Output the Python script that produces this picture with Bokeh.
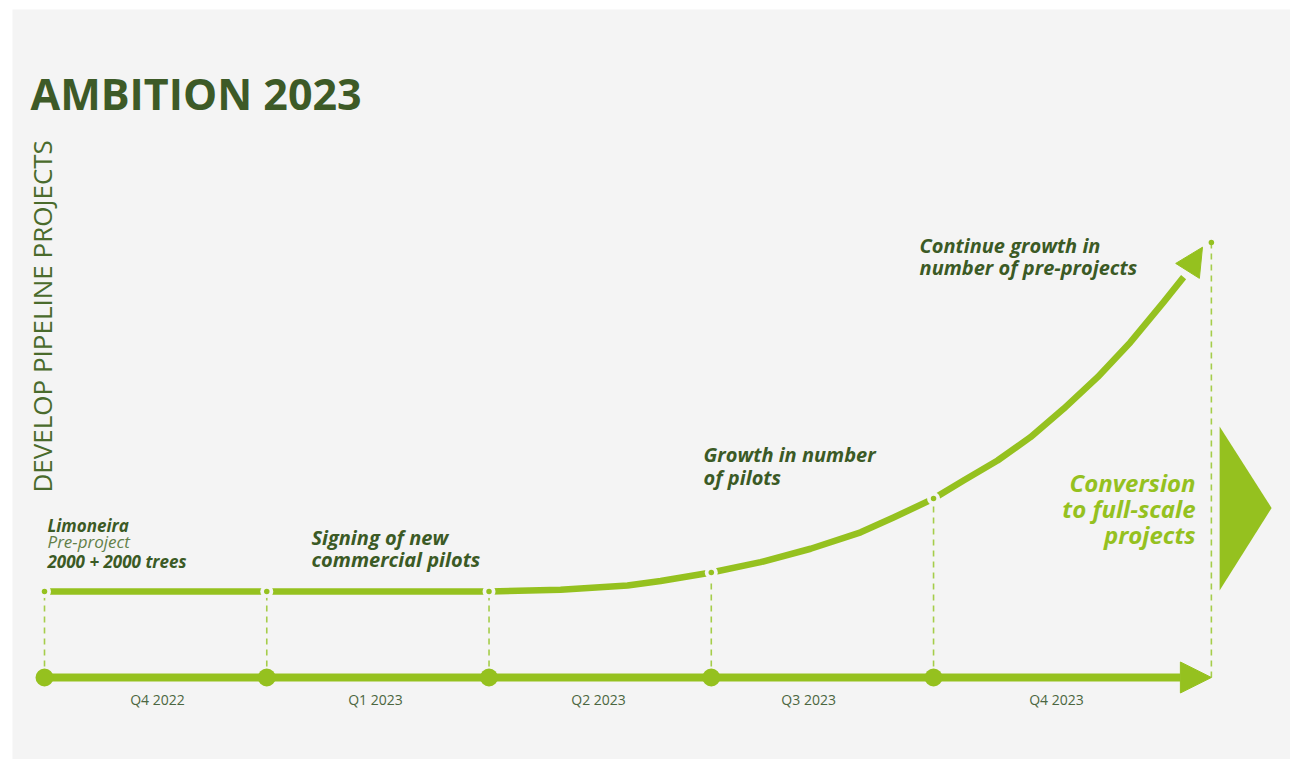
import math
from bokeh.plotting import figure
from bokeh.models import Range1d, Arrow, NormalHead
from bokeh.core.properties import value
from bokeh.embed import file_html
from bokeh.resources import INLINE

# ---------------- data ----------------
# x in quarters since start of Q4 2022, y = pipeline level (timeline = 0)
milestone_x = [0, 1, 2, 3, 4]
milestone_level = [1.0, 1.0, 1.0, 1.221, 2.08]
end_x = 5.25
end_level = 5.058

pipeline_x = [0, 1, 2, 2.322, 2.623, 2.772, 3.0, 3.222, 3.447, 3.672, 3.82,
              4.0, 4.135, 4.288, 4.436, 4.585, 4.738, 4.886, 5.035, 5.125]
pipeline_y = [1.0, 1.0, 1.0, 1.02, 1.07, 1.122, 1.221, 1.341, 1.497, 1.688, 1.86,
              2.08, 2.291, 2.523, 2.794, 3.124, 3.492, 3.899, 4.364, 4.655]
pipeline_tip = (5.21, 5.003)

quarters = ["Q4 2022", "Q1 2023", "Q2 2023", "Q3 2023", "Q4 2023"]
quarter_label_x = [0.508, 1.489, 2.493, 3.438, 4.553]
quarter_label_y = -0.326

conv_tri_x = [5.287, 5.287, 5.521]
conv_tri_y = [2.919, 1.012, 1.97]

GREEN = "#95c11f"
DASH = "#a5cd4a"
DARK = "#3b5a25"
BG = "#f4f4f4"
FONT = "Open Sans"

PX_X = 222.25   # pixels per quarter
PX_Y = 86.0     # pixels per level unit

p = figure(width=1290, height=759, output_backend="svg", toolbar_location=None,
           x_range=Range1d(-0.144, 5.606), y_range=Range1d(-0.9535, 7.767),
           background_fill_color=BG, border_fill_color="white")
p.min_border = 0
p.min_border_left = 12
p.min_border_top = 9
p.min_border_right = 0
p.min_border_bottom = 0
p.outline_line_color = None
p.axis.visible = False
p.xgrid.visible = False
p.ygrid.visible = False

# dashed drop lines
drop_x = milestone_x + [end_x]
drop_top = milestone_level + [end_level]
p.segment(x0=drop_x, y0=[0] * len(drop_x), x1=drop_x, y1=drop_top,
          line_color=DASH, line_width=1.6, line_dash="6 5")

# pipeline curve
p.line(pipeline_x, pipeline_y, line_color=GREEN, line_width=6.5, line_join="round")
p.add_layout(Arrow(end=NormalHead(size=28, fill_color=GREEN, line_color=GREEN, line_width=1),
                   x_start=pipeline_x[-1], y_start=pipeline_y[-1],
                   x_end=pipeline_tip[0], y_end=pipeline_tip[1], line_alpha=0))

# gaps + small dots on curve
p.scatter(milestone_x, milestone_level, size=13, fill_color=BG, line_color=None)
p.scatter(milestone_x, milestone_level, size=5.5, fill_color=GREEN, line_color=None)
p.scatter([end_x], [end_level], size=5.5, fill_color=GREEN, line_color=None)

# timeline axis
head_px = 31
axis_base = end_x - head_px / PX_X
p.line([milestone_x[0], axis_base], [0, 0], line_color=GREEN, line_width=8)
p.add_layout(Arrow(end=NormalHead(size=head_px, fill_color=GREEN, line_color=GREEN, line_width=1),
                   x_start=axis_base, y_start=0, x_end=end_x, y_end=0, line_alpha=0))
p.scatter(milestone_x, [0] * len(milestone_x), size=18, fill_color=GREEN, line_color=None)

# conversion triangle
p.patch(conv_tri_x, conv_tri_y, fill_color=GREEN, line_color=None)


def block(xs, ys, texts, fs, color=DARK, style="bold italic", align="left"):
    lift = 0.4 * fs / PX_Y  # compensate renderer baseline offset
    p.text(x=xs, y=[v + lift for v in ys], text=texts, text_font=value(FONT),
           text_font_size=f"{fs}px", text_font_style=style, text_color=color,
           text_align=align, text_baseline="alphabetic")


# quarter labels
block(quarter_label_x, [quarter_label_y] * len(quarters), quarters, 14,
      color="#4b6640", style="normal", align="center")

# title
block([-0.063], [6.593], ["AMBITION 2023"], 43, color="#3d5a27", style="bold")

# vertical label
vfs = 26
p.text(x=[0.036 - 0.4 * vfs / PX_X], y=[2.151], text=["DEVELOP  PIPELINE PROJECTS"],
       angle=math.pi / 2, text_font=value(FONT), text_font_size=f"{vfs}px",
       text_color="#4a6b2c", text_align="left", text_baseline="alphabetic")

# milestone annotations
block([0.0135, 0.0135], [1.686, 1.267], ["Limoneira", "2000 + 2000 trees"], 17)
block([0.0135], [1.5], ["Pre-project"], 17, color="#627f48", style="italic")
block([1.201, 1.201], [1.535, 1.279], ["Signing of new", "commercial pilots"], 20)
block([2.965, 2.965], [2.5, 2.233], ["Growth in number", "of pilots"], 20)
block([3.937, 3.937], [4.930, 4.674], ["Continue  growth in", "number of pre-projects"], 20)
block([5.179, 5.179, 5.179], [2.151, 1.849, 1.547],
      ["Conversion", "to full-scale", "projects"], 24, color=GREEN, align="right")

open("out.html", "w").write(file_html(p, INLINE))
